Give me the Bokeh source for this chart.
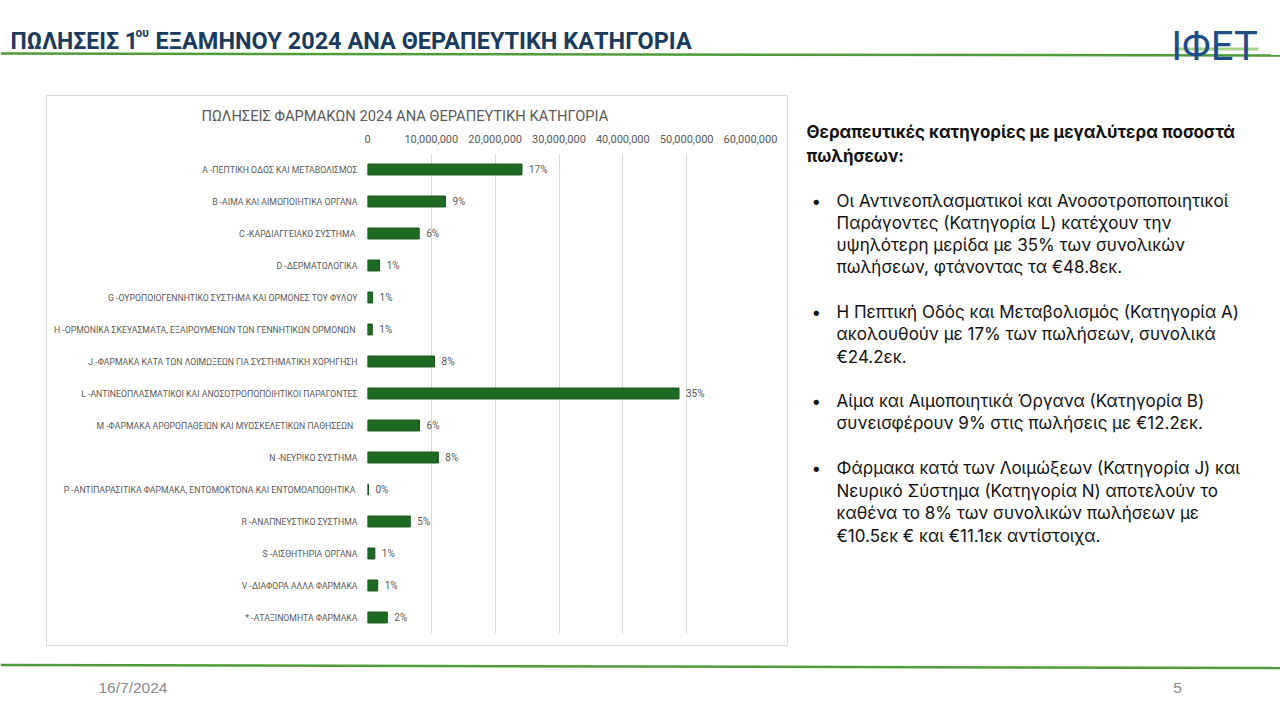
from bokeh.plotting import figure
from bokeh.models import (Range1d, FactorRange, FixedTicker, NumeralTickFormatter,
                          ColumnDataSource, LabelSet, Spacer)
from bokeh.layouts import column, row
from bokeh.embed import file_html
from bokeh.resources import INLINE
from bokeh.core.properties import value

# ---------------- data ----------------
categories = [
    "A -ΠΕΠΤΙΚΗ ΟΔΟΣ ΚΑΙ ΜΕΤΑΒΟΛΙΣΜΟΣ",
    "B -ΑΙΜΑ ΚΑΙ ΑΙΜΟΠΟΙΗΤΙΚΑ ΟΡΓΑΝΑ",
    "C -ΚΑΡΔΙΑΓΓΕΙΑΚΟ  ΣΥΣΤΗΜΑ",
    "D -ΔΕΡΜΑΤΟΛΟΓΙΚΑ",
    "G -ΟΥΡΟΠΟΙΟΓΕΝΝΗΤΙΚΟ ΣΥΣΤΗΜΑ ΚΑΙ ΟΡΜΟΝΕΣ ΤΟΥ ΦΥΛΟΥ",
    "H -ΟΡΜΟΝΙΚΑ ΣΚΕΥΑΣΜΑΤΑ,  ΕΞΑΙΡΟΥΜΕΝΩΝ ΤΩΝ ΓΕΝΝΗΤΙΚΩΝ ΟΡΜΟΝΩΝ",
    "J -ΦΑΡΜΑΚΑ ΚΑΤΑ ΤΩΝ ΛΟΙΜΩΞΕΩΝ ΓΙΑ ΣΥΣΤΗΜΑΤΙΚΗ ΧΟΡΗΓΗΣΗ",
    "L -ΑΝΤΙΝΕΟΠΛΑΣΜΑΤΙΚΟΙ ΚΑΙ ΑΝΟΣΟΤΡΟΠΟΠΟΙΗΤΙΚΟΙ ΠΑΡΑΓΟΝΤΕΣ",
    "M -ΦΑΡΜΑΚΑ ΑΡΘΡΟΠΑΘΕΙΩΝ  ΚΑΙ ΜΥΟΣΚΕΛΕΤΙΚΩΝ  ΠΑΘΗΣΕΩΝ",
    "N -ΝΕΥΡΙΚΟ ΣΥΣΤΗΜΑ",
    "P -ΑΝΤΙΠΑΡΑΣΙΤΙΚΑ ΦΑΡΜΑΚΑ,  ΕΝΤΟΜΟΚΤΟΝΑ ΚΑΙ ΕΝΤΟΜΟΑΠΩΘΗΤΙΚΑ",
    "R -ΑΝΑΠΝΕΥΣΤΙΚΟ ΣΥΣΤΗΜΑ",
    "S -ΑΙΣΘΗΤΗΡΙΑ ΟΡΓΑΝΑ",
    "V -ΔΙΑΦΟΡΑ ΑΛΛΑ ΦΑΡΜΑΚΑ",
    "* -ΑΤΑΞΙΝΟΜΗΤΑ ΦΑΡΜΑΚΑ",
]
sales = [24.2e6, 12.2e6, 8.1e6, 1.9e6, 0.8e6, 0.75e6, 10.5e6, 48.8e6,
         8.15e6, 11.1e6, 0.15e6, 6.7e6, 1.15e6, 1.6e6, 3.1e6]
pct_labels = ["17%", "9%", "6%", "1%", "1%", "1%", "8%", "35%",
              "6%", "8%", "0%", "5%", "1%", "1%", "2%"]
x_ticks = [0, 10_000_000, 20_000_000, 30_000_000, 40_000_000, 50_000_000, 60_000_000]

slide_title_a = "ΠΩΛΗΣΕΙΣ 1"
slide_title_sup = "ου"
slide_title_b = "ΕΞΑΜΗΝΟΥ 2024 ΑΝΑ ΘΕΡΑΠΕΥΤΙΚΗ ΚΑΤΗΓΟΡΙΑ"
chart_title = "ΠΩΛΗΣΕΙΣ ΦΑΡΜΑΚΩΝ 2024 ΑΝΑ ΘΕΡΑΠΕΥΤΙΚΗ ΚΑΤΗΓΟΡΙΑ"
heading_lines = ["Θεραπευτικές κατηγορίες με μεγαλύτερα ποσοστά", "πωλήσεων:"]
bullets = [
    ["Οι Αντινεοπλασματικοί και Ανοσοτροποποιητικοί",
     "Παράγοντες (Κατηγορία L) κατέχουν την",
     "υψηλότερη μερίδα με 35% των συνολικών",
     "πωλήσεων, φτάνοντας τα €48.8εκ."],
    ["Η Πεπτική Οδός και Μεταβολισμός (Κατηγορία A)",
     "ακολουθούν με 17% των πωλήσεων, συνολικά",
     "€24.2εκ."],
    ["Αίμα και Αιμοποιητικά Όργανα (Κατηγορία B)",
     "συνεισφέρουν 9% στις πωλήσεις με €12.2εκ."],
    ["Φάρμακα κατά των Λοιμώξεων (Κατηγορία J) και",
     "Νευρικό Σύστημα (Κατηγορία N) αποτελούν το",
     "καθένα το 8% των συνολικών πωλήσεων με",
     "€10.5εκ € και €11.1εκ αντίστοιχα."],
]
bullet_line_y = [[200, 222, 244, 266], [311, 333, 356], [400, 422], [467, 490, 512, 535]]
footer_date = "16/7/2024"
footer_page = "5"

NAVY = "#1A3B5D"
GREEN_LINE = "#4E9D3A"
GREY = "#595959"


def blank(width, height, x0, x1, y0, y1):
    f = figure(width=width, height=height, x_range=Range1d(x0, x1), y_range=Range1d(y1, y0),
               output_backend="svg", toolbar_location=None, x_axis_type=None, y_axis_type=None,
               min_border=0)
    f.grid.visible = False
    f.outline_line_color = None
    return f


# ---------------- header ----------------
header = blank(1280, 95, 0, 1280, 0, 95)
header.text(x=[10], y=[40.5], text=[slide_title_a], text_font=value("Roboto"),
            text_font_size="23px", text_font_style="bold", text_color=NAVY,
            text_align="left", text_baseline="alphabetic")
header.text(x=[135], y=[32], text=[slide_title_sup], text_font=value("Roboto"),
            text_font_size="12px", text_font_style="bold", text_color=NAVY,
            text_align="left", text_baseline="alphabetic")
header.text(x=[155], y=[40.5], text=[slide_title_b], text_font=value("Roboto"),
            text_font_size="23.5px", text_font_style="bold", text_color=NAVY,
            text_align="left", text_baseline="alphabetic")
header.line(x=[0, 1280], y=[53, 55], line_color=GREEN_LINE, line_width=2.5)
# logo
header.line(x=[1176, 1258], y=[48.5, 48.5], line_color="#A8D28A", line_width=3)
header.text(x=[1214], y=[46], text=["IΦET"], text_font=value("Roboto"),
            text_font_size="40px", text_color="#1D4E89", text_align="center",
            text_baseline="alphabetic")

# ---------------- chart box ----------------
src = ColumnDataSource(dict(cat=categories, sales=sales, pct=pct_labels))
chart = figure(width=740, height=549, y_range=FactorRange(factors=categories[::-1]),
               x_range=Range1d(0, 60_000_000), x_axis_location="above",
               output_backend="svg", toolbar_location=None,
               min_border_left=320, min_border_right=37, min_border_top=57,
               min_border_bottom=12)
chart.title.text = chart_title
chart.title.align = "left"
chart.title.offset = -166
chart.title.text_font = "Roboto"
chart.title.text_font_style = "normal"
chart.title.text_font_size = "14.7px"
chart.title.text_color = GREY
chart.title.standoff = 14
chart.outline_line_color = None
chart.xaxis.ticker = FixedTicker(ticks=x_ticks)
chart.xaxis.formatter = NumeralTickFormatter(format="0,0")
chart.xaxis.axis_line_color = None
chart.xaxis.major_tick_line_color = None
chart.xaxis.minor_tick_line_color = None
chart.xaxis.major_tick_out = 0
chart.xaxis.minor_tick_out = 0
chart.xaxis.major_label_text_font = "Roboto"
chart.xaxis.major_label_text_font_size = "11px"
chart.xaxis.major_label_text_color = GREY
chart.xaxis.major_label_standoff = 11
chart.yaxis.axis_line_color = None
chart.yaxis.major_tick_line_color = None
chart.yaxis.major_tick_out = 0
chart.yaxis.minor_tick_out = 0
chart.yaxis.major_label_text_font = "Roboto"
chart.yaxis.major_label_text_font_size = "8.7px"
chart.yaxis.major_label_text_color = GREY
chart.yaxis.major_label_standoff = 10
chart.xgrid.ticker = FixedTicker(ticks=x_ticks)
chart.xgrid.grid_line_color = "#D9D9D9"
chart.ygrid.grid_line_color = None
chart.hbar(y="cat", left=0, right="sales", height=0.34, source=src,
           fill_color="#1F6B25", line_color="#15501A", line_width=1)
chart.add_layout(LabelSet(x="sales", y="cat", text="pct", source=src, x_offset=7,
                          text_baseline="middle", text_font=value("Roboto"),
                          text_font_size="10px", text_color=GREY))

box = column(chart, styles={"border": "1px solid #D9D9D9"})

# ---------------- right text ----------------
txt = blank(484, 551, 788, 1272, 95, 646)
txt.text(x=[806, 806], y=[131, 155], text=heading_lines, text_font=value("Inter"),
         text_font_size="16.9px", text_font_style="bold", text_color="#111111",
         text_align="left", text_baseline="middle")
for lines, ys in zip(bullets, bullet_line_y):
    txt.text(x=[811], y=[ys[0]], text=["•"], text_font=value("Inter"),
             text_font_size="17px", text_color="#111111", text_align="left",
             text_baseline="middle")
    txt.text(x=[836] * len(lines), y=ys, text=lines, text_font=value("Inter"),
             text_font_size="17px", text_color="#111111", text_align="left",
             text_baseline="middle")

# ---------------- footer ----------------
footer = blank(1280, 70, 0, 1280, 646, 716)
footer.line(x=[0, 1280], y=[664.5, 667.5], line_color=GREEN_LINE, line_width=2.5)
footer.text(x=[98], y=[687], text=[footer_date], text_font=value("Liberation Sans"),
            text_font_size="15.5px", text_color="#8A8A8A", text_align="left",
            text_baseline="middle")
footer.text(x=[1177], y=[687], text=[footer_page], text_font=value("Liberation Sans"),
            text_font_size="15.5px", text_color="#8A8A8A", text_align="center",
            text_baseline="middle")

layout = column(header, row(Spacer(width=46, height=551), box, txt), footer)
open("out.html", "w").write(file_html(layout, INLINE))
